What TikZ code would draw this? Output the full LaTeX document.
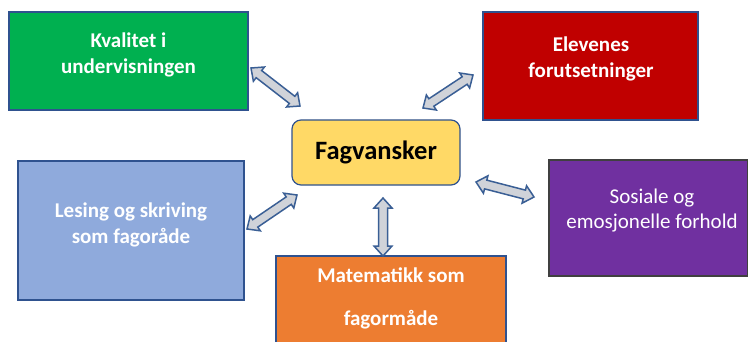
\documentclass[tikz,border=0pt]{standalone}
\usepackage{fontspec}
\setmainfont{Carlito}
\usetikzlibrary{calc}
\definecolor{bord}{HTML}{2F528F}
\definecolor{cgreen}{HTML}{00B050}
\definecolor{cred}{HTML}{C00000}
\definecolor{cyellow}{HTML}{FFD966}
\definecolor{cblue}{HTML}{8FAADC}
\definecolor{corange}{HTML}{ED7D31}
\definecolor{cpurple}{HTML}{7030A0}
\definecolor{agray}{HTML}{D0D3D9}
\definecolor{aborder}{HTML}{3A5F95}
\tikzset{
  box/.style={draw=bord, line width=1.2pt, inner sep=0pt},
  wtxt/.style={text=white, align=center, font=\bfseries\fontsize{21}{26}\selectfont},
  blockarr/.style={draw=aborder, fill=agray, line width=1.5pt, line join=miter},
}
% #1 start tip, #2 end tip
\newcommand\blockarrow[2]{%
  \coordinate (#1-ha) at ($(#1)!10pt!(#2)$);
  \coordinate (#1-hb) at ($(#2)!10pt!(#1)$);
  \draw[blockarr] (#1) -- ($(#1-ha)!9pt!90:(#2)$) -- ($(#1-ha)!4.5pt!90:(#2)$)
    -- ($(#1-hb)!4.5pt!-90:(#1)$) -- ($(#1-hb)!9pt!-90:(#1)$) -- (#2)
    -- ($(#1-hb)!9pt!90:(#1)$) -- ($(#1-hb)!4.5pt!90:(#1)$)
    -- ($(#1-ha)!4.5pt!-90:(#2)$) -- ($(#1-ha)!9pt!-90:(#2)$) -- cycle;}
\begin{document}
\begin{tikzpicture}[x=1pt,y=-1pt]
\useasboundingbox (0,0) rectangle (749,342);
% boxes
\path[box, fill=cgreen] (9,12) rectangle (248,110);
\path[box, fill=cred] (483,12) rectangle (698,120);
\path[box, fill=cblue, line width=1.8pt] (18,161) rectangle (244,300);
\path[box, fill=corange] (276,256) rectangle (506,350);
\path[box, fill=cpurple, draw=black!75] (549,160) rectangle (747.5,276);
\node[box, fill=cyellow, rounded corners=9pt, minimum width=168pt, minimum height=65pt] (f) at (376,152.5) {};
% texts
\node[wtxt] (gt) at (128.5,55) {Kvalitet i\\undervisningen};
\node[wtxt] (rt) at (591,59) {Elevenes\\forutsetninger};
\node[wtxt] (bt) at (131,225) {Lesing og skriving\\som fagoråde};
\node[wtxt, font=\bfseries\fontsize{21}{43}\selectfont] (ot) at (391,298.5) {Matematikk som\\fagormåde};
\node[text=white, align=center, font=\fontsize{21}{25}\selectfont] (pt) at (652,211) {Sosiale og\\emosjonelle forhold};
\node[font=\bfseries\fontsize{26.5}{30}\selectfont] (ft) at (f.center) {Fagvansker};
% arrows
\coordinate (a1s) at (251,68); \coordinate (a1e) at (300,106);
\coordinate (a2s) at (423,108); \coordinate (a2e) at (473,75);
\coordinate (a3s) at (247,229); \coordinate (a3e) at (297,195);
\coordinate (a4s) at (383,198); \coordinate (a4e) at (383,256);
\coordinate (a5s) at (476,182); \coordinate (a5e) at (534,197);
\blockarrow{a1s}{a1e}
\blockarrow{a2s}{a2e}
\blockarrow{a3s}{a3e}
\blockarrow{a4s}{a4e}
\blockarrow{a5s}{a5e}
\end{tikzpicture}
\end{document}
